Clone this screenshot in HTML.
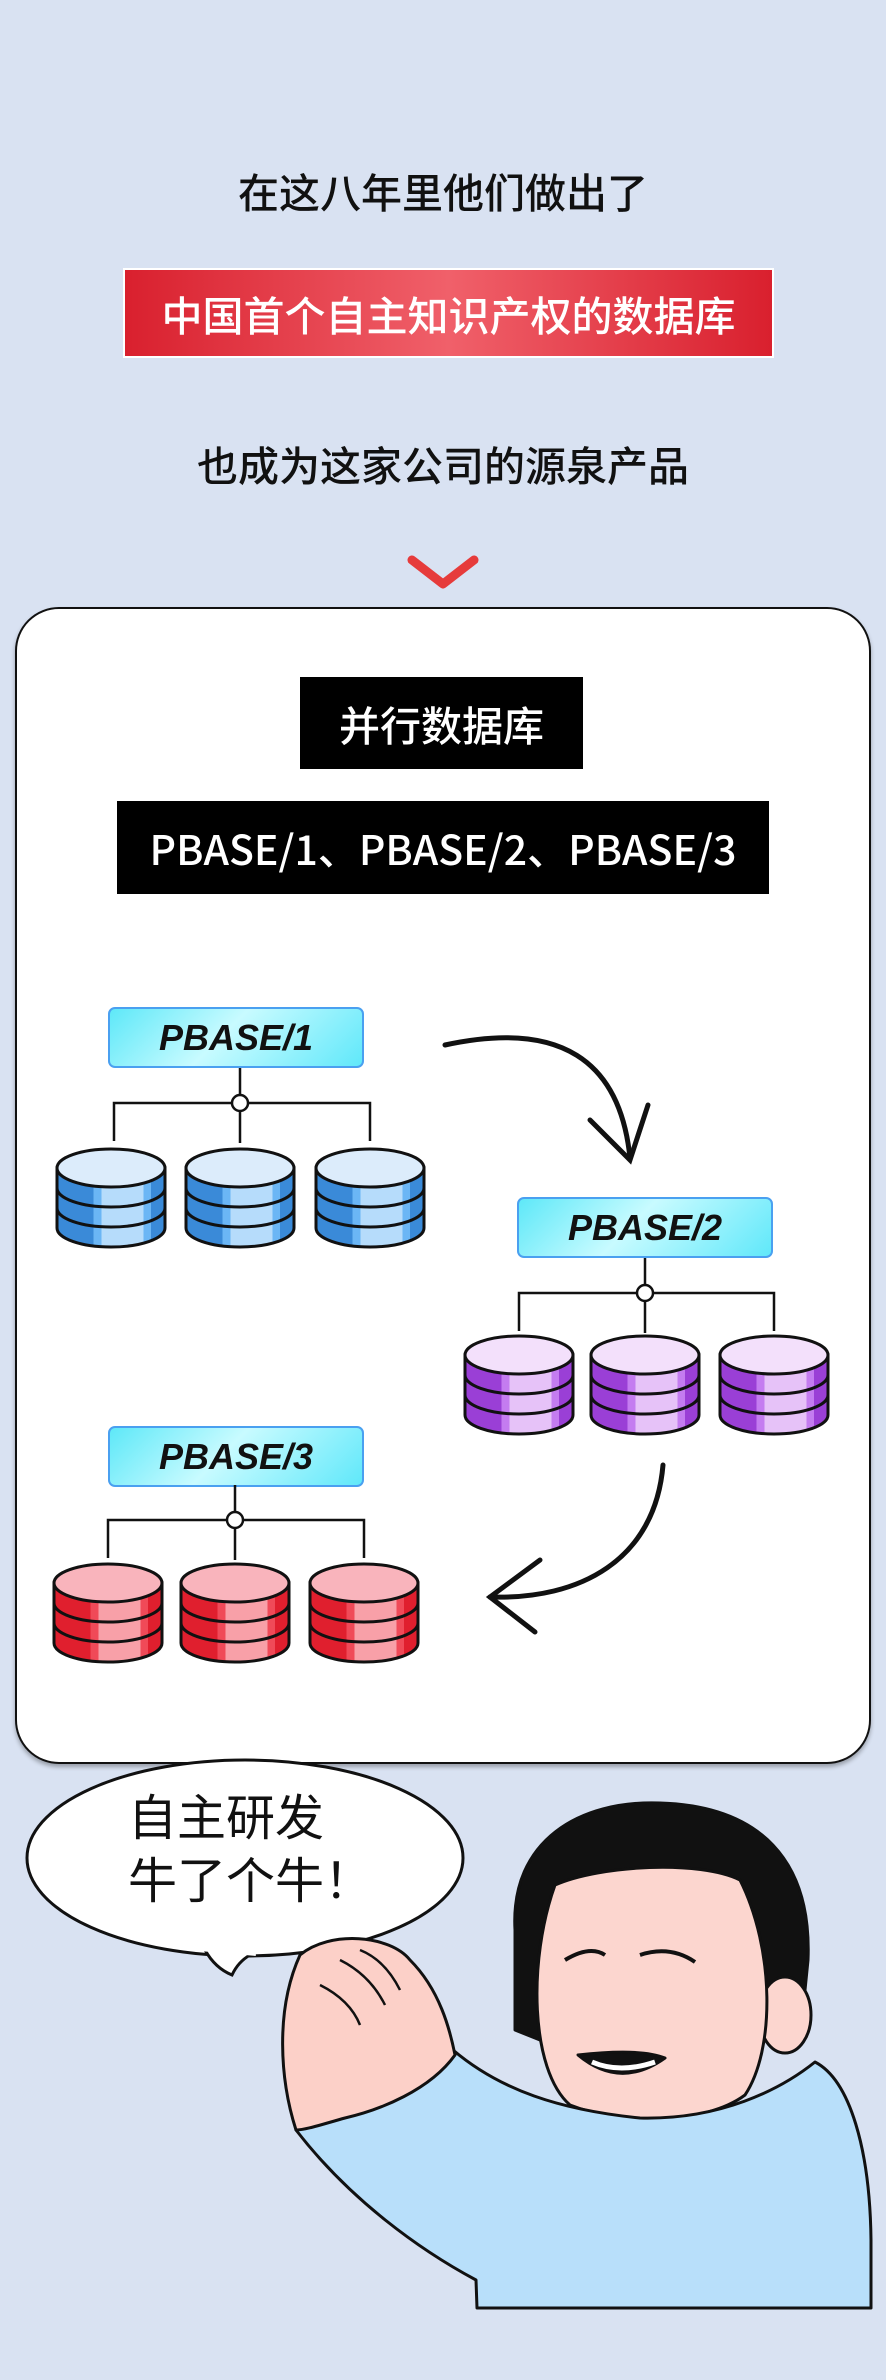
<!DOCTYPE html>
<html><head><meta charset="utf-8"><style>
body{margin:0;background:#d9e2f2;}
.wrap{position:relative;width:886px;height:2380px;overflow:hidden;background:#d9e2f2;font-family:"Noto Sans CJK SC","Liberation Sans",sans-serif;}
.t{position:absolute;left:0;width:886px;text-align:center;color:#111;font-size:41px;font-weight:500;}
.red{position:absolute;left:123px;top:268px;width:651px;height:90px;background:linear-gradient(90deg,#d9202e,#f0606a 50%,#d9202e);border:2px solid #fff;box-sizing:border-box;color:#fff;font-size:41px;font-weight:500;text-align:center;line-height:86px;}
.card{position:absolute;left:15px;top:607px;width:856px;height:1157px;background:#fff;border:2px solid #111;border-radius:44px;box-sizing:border-box;box-shadow:0 3px 4px rgba(0,0,0,.3);}
.blk{position:absolute;background:#000;color:#fff;text-align:center;font-size:41px;font-weight:500;}
.lab{position:absolute;width:256px;height:61px;border:2px solid #4aa0f0;border-radius:7px;box-sizing:border-box;background:linear-gradient(135deg,#5ee8f8,#c8fbff 45%,#60e8fa);font-family:"Liberation Sans",sans-serif;font-style:italic;font-weight:bold;font-size:36px;line-height:57px;text-align:center;color:#111;}
</style></head><body><div class="wrap">
<div class="t" style="top:160px">在这八年里他们做出了</div>
<div class="red">中国首个自主知识产权的数据库</div>
<div class="t" style="top:433px">也成为这家公司的源泉产品</div>
<svg style="position:absolute;left:0;top:0" width="886" height="2380">
<polyline points="412,560 443,584 474,560" fill="none" stroke="#e63b3b" stroke-width="9" stroke-linecap="round" stroke-linejoin="round"/>
</svg>
<div class="card"></div>
<div class="blk" style="left:300px;top:677px;width:283px;height:92px;line-height:92px">并行数据库</div>
<div class="blk" style="left:117px;top:801px;width:652px;height:93px;line-height:93px">PBASE/1、PBASE/2、PBASE/3</div>
<div class="lab" style="left:108px;top:1007px">PBASE/1</div>
<div class="lab" style="left:517px;top:1197px">PBASE/2</div>
<div class="lab" style="left:108px;top:1426px">PBASE/3</div>
<svg style="position:absolute;left:0;top:0" width="886" height="2380">
<defs>
<linearGradient id="gb"><stop offset="0" stop-color="#3a8ad8"/><stop offset=".34" stop-color="#3a8ad8"/><stop offset=".34" stop-color="#6bb6f5"/><stop offset=".41" stop-color="#6bb6f5"/><stop offset=".41" stop-color="#b6dcfb"/><stop offset=".8" stop-color="#b6dcfb"/><stop offset=".8" stop-color="#6bb6f5"/><stop offset=".87" stop-color="#6bb6f5"/><stop offset=".87" stop-color="#3a8ad8"/></linearGradient>
<linearGradient id="gp"><stop offset="0" stop-color="#9a3fd6"/><stop offset=".34" stop-color="#9a3fd6"/><stop offset=".34" stop-color="#c47cf0"/><stop offset=".41" stop-color="#c47cf0"/><stop offset=".41" stop-color="#e6c2f8"/><stop offset=".8" stop-color="#e6c2f8"/><stop offset=".8" stop-color="#c47cf0"/><stop offset=".87" stop-color="#c47cf0"/><stop offset=".87" stop-color="#9a3fd6"/></linearGradient>
<linearGradient id="gr"><stop offset="0" stop-color="#e01f2e"/><stop offset=".34" stop-color="#e01f2e"/><stop offset=".34" stop-color="#f04a58"/><stop offset=".41" stop-color="#f04a58"/><stop offset=".41" stop-color="#f8a0a8"/><stop offset=".8" stop-color="#f8a0a8"/><stop offset=".8" stop-color="#f04a58"/><stop offset=".87" stop-color="#f04a58"/><stop offset=".87" stop-color="#e01f2e"/></linearGradient>
<symbol id="cb" overflow="visible"><path d="M1,20 V80 A54,19 0 0 0 109,80 V20 Z" fill="url(#gb)" stroke="#111" stroke-width="3"/><path d="M1,40 A54,19 0 0 0 109,40 M1,60 A54,19 0 0 0 109,60" fill="none" stroke="#111" stroke-width="3"/><ellipse cx="55" cy="20" rx="54" ry="19" fill="#dcecfb" stroke="#111" stroke-width="3"/></symbol>
<symbol id="cp" overflow="visible"><path d="M1,20 V80 A54,19 0 0 0 109,80 V20 Z" fill="url(#gp)" stroke="#111" stroke-width="3"/><path d="M1,40 A54,19 0 0 0 109,40 M1,60 A54,19 0 0 0 109,60" fill="none" stroke="#111" stroke-width="3"/><ellipse cx="55" cy="20" rx="54" ry="19" fill="#f3e0fb" stroke="#111" stroke-width="3"/></symbol>
<symbol id="cr" overflow="visible"><path d="M1,20 V80 A54,19 0 0 0 109,80 V20 Z" fill="url(#gr)" stroke="#111" stroke-width="3"/><path d="M1,40 A54,19 0 0 0 109,40 M1,60 A54,19 0 0 0 109,60" fill="none" stroke="#111" stroke-width="3"/><ellipse cx="55" cy="20" rx="54" ry="19" fill="#f9b4bc" stroke="#111" stroke-width="3"/></symbol>
</defs>
<g fill="none" stroke="#111" stroke-width="2.5">
<path d="M240,1068 V1143 M114,1141 V1103 H370 V1141"/>
<path d="M645,1258 V1333 M519,1331 V1293 H774 V1331"/>
<path d="M235,1485 V1560 M108,1558 V1520 H364 V1558"/>
</g>
<circle cx="240" cy="1103" r="8" fill="#fff" stroke="#111" stroke-width="2.5"/>
<circle cx="645" cy="1293" r="8" fill="#fff" stroke="#111" stroke-width="2.5"/>
<circle cx="235" cy="1520" r="8" fill="#fff" stroke="#111" stroke-width="2.5"/>
<use href="#cb" x="56" y="1148"/><use href="#cb" x="185" y="1148"/><use href="#cb" x="315" y="1148"/>
<use href="#cp" x="464" y="1335"/><use href="#cp" x="590" y="1335"/><use href="#cp" x="719" y="1335"/>
<use href="#cr" x="53" y="1563"/><use href="#cr" x="180" y="1563"/><use href="#cr" x="309" y="1563"/>
<g fill="none" stroke="#111" stroke-width="5" stroke-linecap="round">
<path d="M445,1045 C560,1020 620,1060 630,1158"/>
<path d="M590,1120 L630,1160 L648,1105"/>
<path d="M663,1465 C655,1560 580,1600 490,1597"/>
<path d="M540,1560 L490,1597 L535,1632"/>
</g>
<ellipse cx="245" cy="1858" rx="218" ry="98" fill="#fff" stroke="#111" stroke-width="3"/>
<path d="M205,1950 Q215,1968 232,1975 Q238,1962 250,1955" fill="#fff" stroke="#111" stroke-width="3"/>
<path d="M200,1948 L256,1953" stroke="#fff" stroke-width="6"/>
<text x="128" y="1835" font-size="49" font-family="Noto Sans CJK SC,sans-serif" fill="#111">自主研发</text>
<text x="128" y="1898" font-size="49" font-family="Noto Sans CJK SC,sans-serif" fill="#111">牛了个牛！</text>
<g stroke="#111" stroke-width="3" stroke-linejoin="round">
<path d="M515,1930 C510,1840 580,1800 660,1803 C760,1806 812,1860 808,1960 L800,2040 L750,2040 L740,1950 L560,1940 L540,2040 L515,2030 Z" fill="#111"/>
<ellipse cx="785" cy="2015" rx="26" ry="38" fill="#fcd6cf"/>
<path d="M555,1885 C600,1865 700,1860 740,1880 C775,1950 775,2050 745,2095 C705,2125 620,2125 570,2105 C530,2070 528,1960 555,1885 Z" fill="#fcd6cf"/>
<path d="M565,1960 Q590,1945 605,1955 M640,1955 Q670,1945 695,1962" fill="none" stroke-width="4"/>
<path d="M578,2055 Q620,2090 665,2058 Q640,2048 578,2055 Z" fill="#111"/>
<path d="M592,2062 Q620,2074 655,2062" stroke="#fff" stroke-width="5" fill="none"/>
<path d="M453,2050 C500,2090 560,2110 640,2118 C720,2120 780,2090 815,2062 C850,2080 870,2150 871,2240 L871,2308 L477,2308 L476,2280 C420,2250 350,2200 296,2130 C330,2110 420,2080 453,2050 Z" fill="#b8dffa"/>
<path d="M296,2130 C280,2080 275,2010 300,1955 C330,1930 390,1935 410,1960 C440,1990 450,2030 455,2055 C430,2090 380,2110 345,2118 C320,2125 305,2130 296,2130 Z" fill="#fcd0c8"/>
<path d="M320,1985 Q350,2000 360,2025 M340,1960 Q370,1975 385,2005 M360,1950 Q385,1960 400,1990" fill="none" stroke-width="2.5"/>
</g>
</svg>
</div></body></html>
